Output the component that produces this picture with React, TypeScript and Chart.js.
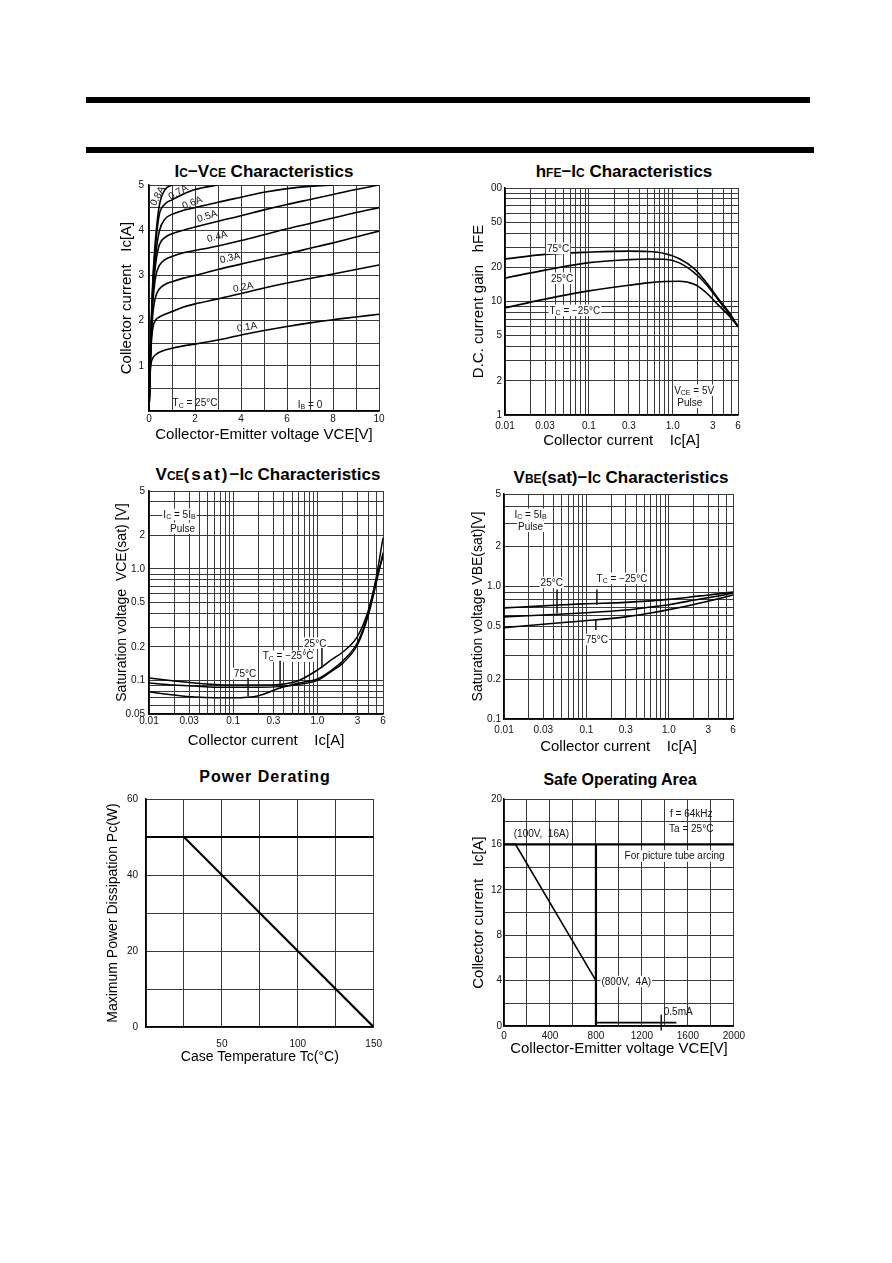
import React, { useEffect, useRef } from 'react';
import { Chart, registerables } from 'chart.js';

Chart.register(...registerables);

const FONT = '"Liberation Sans", Arial, Helvetica, sans-serif';

// ---------- Ic–VCE characteristics ----------
const icVceV = [0, 0.03, 0.06, 0.1, 0.15, 0.2, 0.3, 0.45, 0.7, 1, 1.5, 2, 3, 4, 5, 6, 7, 8, 9, 10];
const icIb01 = [0, 0.55, 0.9, 1.08, 1.16, 1.2, 1.25, 1.3, 1.35, 1.39, 1.44, 1.48, 1.57, 1.68, 1.78, 1.87, 1.95, 2.02, 2.08, 2.14];
const icIb02 = [0, 0.6, 1.1, 1.5, 1.78, 1.92, 2.02, 2.08, 2.14, 2.2, 2.3, 2.37, 2.48, 2.6, 2.72, 2.83, 2.93, 3.03, 3.13, 3.23];
const icIb03 = [0, 0.6, 1.15, 1.65, 2.05, 2.3, 2.55, 2.7, 2.8, 2.86, 2.94, 3.0, 3.13, 3.25, 3.37, 3.48, 3.6, 3.72, 3.85, 3.98];
const icIb04 = [0, 0.6, 1.2, 1.75, 2.3, 2.6, 3.0, 3.22, 3.35, 3.42, 3.5, 3.55, 3.65, 3.77, 3.9, 4.03, 4.15, 4.27, 4.39, 4.5];
const icIb05 = [0, 0.6, 1.2, 1.8, 2.45, 2.8, 3.3, 3.68, 3.84, 3.92, 4.0, 4.07, 4.2, 4.32, 4.45, 4.57, 4.68, 4.79, 4.9, 5.0];
const icIb06 = [0, 0.6, 1.25, 1.85, 2.55, 2.95, 3.5, 3.98, 4.25, 4.35, 4.44, 4.5, 4.62, 4.73, 4.84, 4.92, 4.97, 5.0, null, null];
const icIb07 = [0, 0.6, 1.25, 1.9, 2.6, 3.1, 3.75, 4.35, 4.58, 4.67, 4.8, 4.9, 5.0, null, null, null, null, null, null, null];
const icIb08 = [0, 0.6, 1.3, 1.95, 2.7, 3.2, 3.9, 4.55, 4.9, 5.0, null, null, null, null, null, null, null, null, null, null];
const icVceGridX = [0, 1, 2, 3, 4, 5, 6, 7, 8, 9, 10];
const icVceGridY = [0, 0.5, 1, 1.5, 2, 2.5, 3, 3.5, 4, 4.5, 5];
const icVceLabelsX: [number, string][] = [[0, '0'], [2, '2'], [4, '4'], [6, '6'], [8, '8'], [10, '10']];
const icVceLabelsY: [number, string][] = [[1, '1'], [2, '2'], [3, '3'], [4, '4'], [5, '5']];

// ---------- shared log grid for collector current ----------
const icLogGrid = [0.01, 0.02, 0.03, 0.04, 0.05, 0.06, 0.07, 0.08, 0.09, 0.1, 0.2, 0.3, 0.4, 0.5, 0.6, 0.7, 0.8, 0.9, 1, 2, 3, 4, 5, 6];
const icLogLabels: [number, string][] = [[0.01, '0.01'], [0.03, '0.03'], [0.1, '0.1'], [0.3, '0.3'], [1, '1.0'], [3, '3'], [6, '6']];

// ---------- hFE–Ic ----------
const hfeIc = [0.01, 0.03, 0.1, 0.3, 0.5, 0.8, 1.2, 1.8, 2.5, 3.5, 5, 6];
const hfe75 = [23.7, 26, 27.2, 27.8, 27.6, 26.5, 23.8, 19.5, 14.8, 10.6, 7.5, 6.0];
const hfe25 = [16.1, 18.9, 22, 23.4, 23.7, 23.6, 21.9, 18, 14.2, 10.3, 7.3, 6.0];
const hfeM25 = [8.8, 10.5, 12.4, 13.9, 14.6, 15.0, 15.1, 14.2, 12.0, 9.3, 7.1, 6.0];
const hfeGridY = [1, 2, 3, 4, 5, 6, 7, 8, 9, 10, 20, 30, 40, 50, 60, 70, 80, 90, 100];
const hfeLabelsY: [number, string][] = [[1, '1'], [2, '2'], [5, '5'], [10, '10'], [20, '20'], [50, '50'], [100, '00']];

// ---------- VCE(sat)–Ic ----------
const vceSatIc = [0.01, 0.02, 0.035, 0.06, 0.1, 0.2, 0.35, 0.6, 1, 1.5, 2, 3, 4, 5, 6];
const vceSat25 = [0.105, 0.099, 0.095, 0.092, 0.091, 0.091, 0.092, 0.1, 0.124, 0.155, 0.18, 0.25, 0.42, 0.8, 1.3];
const vceSatM25 = [0.095, 0.091, 0.089, 0.087, 0.087, 0.087, 0.088, 0.092, 0.1, 0.122, 0.143, 0.21, 0.38, 0.75, 1.4];
const vceSat75 = [0.079, 0.074, 0.071, 0.07, 0.07, 0.073, 0.085, 0.095, 0.103, 0.125, 0.15, 0.22, 0.4, 0.85, 1.9];
const vceSatGridY = [0.05, 0.06, 0.07, 0.08, 0.09, 0.1, 0.2, 0.3, 0.4, 0.5, 0.6, 0.7, 0.8, 0.9, 1, 2, 3, 4, 5];
const vceSatLabelsY: [number, string][] = [[0.05, '0.05'], [0.1, '0.1'], [0.2, '0.2'], [0.5, '0.5'], [1, '1.0'], [2, '2'], [5, '5']];

// ---------- VBE(sat)–Ic ----------
const vbeSatIc = [0.01, 0.03, 0.09, 0.3, 0.6, 1, 2.4, 4, 6];
const vbeSat25 = [0.69, 0.715, 0.74, 0.76, 0.78, 0.8, 0.85, 0.88, 0.91];
const vbeSatM25 = [0.59, 0.61, 0.632, 0.665, 0.7, 0.73, 0.806, 0.85, 0.895];
const vbeSat75 = [0.49, 0.52, 0.55, 0.59, 0.632, 0.67, 0.752, 0.81, 0.864];
const vbeSatGridY = [0.1, 0.2, 0.3, 0.4, 0.5, 0.6, 0.7, 0.8, 0.9, 1, 2, 3, 4, 5];
const vbeSatLabelsY: [number, string][] = [[0.1, '0.1'], [0.2, '0.2'], [0.5, '0.5'], [1, '1.0'], [2, '2'], [5, '5']];

// ---------- Power derating ----------
const pdTemp = [0, 25, 150];
const pdPower = [50, 50, 0];
const pdLimitTemp = [0, 150];
const pdLimitPower = [50, 50];
const pdGridX = [0, 25, 50, 75, 100, 125, 150];
const pdGridY = [0, 10, 20, 30, 40, 50, 60];
const pdLabelsX: [number, string][] = [[50, '50'], [100, '100'], [150, '150']];
const pdLabelsY: [number, string][] = [[0, '0'], [20, '20'], [40, '40'], [60, '60']];

// ---------- Safe operating area ----------
const soaVce = [0, 100, 800, 800, 1500];
const soaIc = [16, 16, 4, 0.3, 0.3];
const arcVce = [0, 2000];
const arcIc = [16, 16];
const arcEdgeVce = [800, 800];
const arcEdgeIc = [16, 0];
const soaGridX = [0, 200, 400, 600, 800, 1000, 1200, 1400, 1600, 1800, 2000];
const soaGridY = [0, 2, 4, 6, 8, 10, 12, 14, 16, 18, 20];
const soaLabelsX: [number, string][] = [[0, '0'], [400, '400'], [800, '800'], [1200, '1200'], [1600, '1600'], [2000, '2000']];
const soaLabelsY: [number, string][] = [[0, '0'], [4, '4'], [8, '8'], [12, '12'], [16, '16'], [20, '20']];

// ---------- annotations (data coordinates) ----------
type Note = { x: number; y: number; text?: string; size?: number; align?: CanvasTextAlign; rot?: number; x2?: number; y2?: number; lw?: number; bg?: boolean };

const icVceNotes: Note[] = [
  { x: 0.35, y: 4.76, text: '0.8A', rot: -62 },
  { x: 1.26, y: 4.85, text: '0.7A', rot: -30 },
  { x: 1.87, y: 4.62, text: '0.6A', rot: -22 },
  { x: 2.52, y: 4.32, text: '0.5A', rot: -17 },
  { x: 2.96, y: 3.87, text: '0.4A', rot: -15 },
  { x: 3.52, y: 3.4, text: '0.3A', rot: -13 },
  { x: 4.09, y: 2.75, text: '0.2A', rot: -11 },
  { x: 4.26, y: 1.87, text: '0.1A', rot: -9 },
  { x: 2.0, y: 0.18, text: 'T_{C} = 25°C' },
  { x: 7.0, y: 0.15, text: 'I_{B} = 0' },
];
const hfeNotes: Note[] = [
  { x: 0.043, y: 29.6, text: '75°C', bg: true },
  { x: 0.048, y: 16.1, text: '25°C', bg: true },
  { x: 0.068, y: 8.4, text: 'T_{C} = −25°C', bg: true },
  { x: 1.8, y: 1.66, text: 'V_{CE} = 5V', bg: true },
  { x: 1.6, y: 1.3, text: 'Pulse', bg: true },
];
const vceSatNotes: Note[] = [
  { x: 0.023, y: 3.1, text: 'I_{C} = 5I_{B}', bg: true },
  { x: 0.025, y: 2.33, text: 'Pulse', bg: true },
  { x: 0.138, y: 0.116, text: '75°C', bg: true },
  { x: 0.447, y: 0.166, text: 'T_{C} = −25°C', bg: true },
  { x: 0.94, y: 0.217, text: '25°C', bg: true },
  { x: 0.15, y: 0.105, x2: 0.15, y2: 0.072 },
  { x: 0.36, y: 0.15, x2: 0.36, y2: 0.088 },
  { x: 1.13, y: 0.195, x2: 1.13, y2: 0.13 },
];
const vbeSatNotes: Note[] = [
  { x: 0.021, y: 3.53, text: 'I_{C} = 5I_{B}', bg: true },
  { x: 0.021, y: 2.87, text: 'Pulse', bg: true },
  { x: 0.038, y: 1.08, text: '25°C', bg: true },
  { x: 0.27, y: 1.16, text: 'T_{C} = −25°C', bg: true },
  { x: 0.134, y: 0.4, text: '75°C', bg: true },
  { x: 0.044, y: 0.95, x2: 0.044, y2: 0.63 },
  { x: 0.134, y: 0.95, x2: 0.134, y2: 0.73 },
  { x: 0.13, y: 0.56, x2: 0.13, y2: 0.47 },
];
const soaNotes: Note[] = [
  { x: 325, y: 17.0, text: '(100V,  16A)' },
  { x: 1629, y: 18.7, text: 'f = 64kHz' },
  { x: 1629, y: 17.4, text: 'Ta = 25°C' },
  { x: 1484, y: 15.0, text: 'For picture tube arcing', bg: true },
  { x: 1064, y: 3.95, text: '(800V,  4A)', bg: true },
  { x: 1390, y: 1.3, text: '0.5mA', align: 'left' },
  { x: 1368, y: 1.0, x2: 1368, y2: -0.4 },
];

// ---------- helpers ----------
function drawRich(ctx: CanvasRenderingContext2D, text: string, x: number, y: number, size: number, align: CanvasTextAlign, bg: boolean) {
  const parts = text
    .split(/(_\{[^}]*\})/)
    .filter((p) => p.length > 0)
    .map((p) => (p.startsWith('_{') ? { t: p.slice(2, -1), sub: true } : { t: p, sub: false }));
  const fontFor = (sub: boolean) => `${sub ? Math.round(size * 0.72) : size}px ${FONT}`;
  const widths = parts.map((p) => {
    ctx.font = fontFor(p.sub);
    return ctx.measureText(p.t).width;
  });
  const total = widths.reduce((a, b) => a + b, 0);
  let cx = align === 'center' ? x - total / 2 : align === 'right' ? x - total : x;
  if (bg) {
    ctx.fillStyle = '#fff';
    ctx.fillRect(cx - 1, y - size * 0.55, total + 2, size * 1.15);
  }
  ctx.fillStyle = '#111';
  ctx.textAlign = 'left';
  ctx.textBaseline = 'alphabetic';
  parts.forEach((p, i) => {
    ctx.font = fontFor(p.sub);
    ctx.fillText(p.t, cx, y + size * 0.36 + (p.sub ? size * 0.12 : 0));
    cx += widths[i];
  });
}

function notesPlugin(notes: Note[]) {
  return {
    id: 'notes',
    afterDatasetsDraw(chart: any) {
      const ctx: CanvasRenderingContext2D = chart.ctx;
      const xs = chart.scales.x;
      const ys = chart.scales.y;
      ctx.save();
      for (const n of notes) {
        const px = xs.getPixelForValue(n.x);
        const py = ys.getPixelForValue(n.y);
        if (n.x2 !== undefined && n.y2 !== undefined) {
          ctx.strokeStyle = '#111';
          ctx.lineWidth = n.lw ?? 1.5;
          ctx.beginPath();
          ctx.moveTo(px, py);
          ctx.lineTo(xs.getPixelForValue(n.x2), ys.getPixelForValue(n.y2));
          ctx.stroke();
        }
        if (n.text) {
          ctx.save();
          ctx.translate(px, py);
          ctx.rotate(((n.rot ?? 0) * Math.PI) / 180);
          drawRich(ctx, n.text, 0, 0, n.size ?? 10, n.align ?? 'center', !!n.bg);
          ctx.restore();
        }
      }
      ctx.restore();
    },
  };
}

function findLabel(labels: [number, string][], v: number) {
  for (const [lv, s] of labels) if (Math.abs(lv - v) <= Math.abs(lv) * 1e-6 + 1e-9) return s;
  return '';
}

type AxisSpec = {
  type: 'linear' | 'logarithmic';
  min: number;
  max: number;
  grid: number[];
  labels: [number, string][];
  title: string;
  titleSize: number;
  pad: number;
};

function axis(spec: AxisSpec, fixed: number, horizontal: boolean) {
  return {
    type: spec.type,
    position: horizontal ? 'bottom' : 'left',
    min: spec.min,
    max: spec.max,
    bounds: 'data',
    afterBuildTicks: (s: any) => {
      s.ticks = spec.grid.map((v) => ({ value: v }));
    },
    afterFit: (s: any) => {
      if (horizontal) s.height = fixed;
      else s.width = fixed;
    },
    ticks: {
      autoSkip: false,
      maxRotation: 0,
      minRotation: 0,
      padding: spec.pad,
      font: { family: FONT, size: 10 },
      color: '#111',
      callback: (v: any) => findLabel(spec.labels, Number(v)),
    },
    grid: { color: '#3a3a3a', lineWidth: 1, drawTicks: false },
    border: { display: true, color: '#000', width: 1.5 },
    title: {
      display: true,
      text: spec.title,
      color: '#000',
      font: { family: FONT, size: spec.titleSize },
      padding: 0,
    },
  };
}

function series(xs: number[], ys: (number | null)[], width = 1.6, smooth = true) {
  const data: { x: number; y: number }[] = [];
  xs.forEach((x, i) => {
    const y = ys[i];
    if (y !== null && y !== undefined) data.push({ x, y });
  });
  return {
    data,
    showLine: true,
    borderColor: '#000',
    backgroundColor: '#000',
    borderWidth: width,
    pointRadius: 0,
    cubicInterpolationMode: smooth ? 'monotone' : 'default',
    tension: 0,
    fill: false,
  };
}

type Box = { left: number; top: number; width: number; height: number; padTop: number; padRight: number; yW: number; xH: number };

function makeConfig(datasets: any[], xSpec: AxisSpec, ySpec: AxisSpec, box: Box, notes: Note[]) {
  return {
    type: 'scatter',
    data: { datasets },
    options: {
      responsive: false,
      maintainAspectRatio: false,
      animation: false,
      events: [],
      devicePixelRatio: 1,
      layout: { padding: { top: box.padTop, right: box.padRight, left: 0, bottom: 0 } },
      plugins: { legend: { display: false }, tooltip: { enabled: false }, title: { display: false } },
      scales: { x: axis(xSpec, box.xH, true), y: axis(ySpec, box.yW, false) },
    },
    plugins: [notesPlugin(notes)],
  };
}

function ChartBox({ box, build }: { box: Box; build: () => any }) {
  const ref = useRef<HTMLCanvasElement>(null);
  useEffect(() => {
    const chart = new Chart(ref.current as HTMLCanvasElement, build());
    return () => chart.destroy();
  }, []);
  return (
    <canvas
      ref={ref}
      width={box.width}
      height={box.height}
      style={{ position: 'absolute', left: box.left, top: box.top, width: box.width, height: box.height }}
    />
  );
}

function Title({ cx, cy, children, spacing, size }: { cx: number; cy: number; children: any; spacing?: number; size?: number }) {
  return (
    <div
      style={{
        position: 'absolute',
        left: cx - 170,
        top: cy - 10,
        width: 340,
        height: 20,
        lineHeight: '20px',
        textAlign: 'center',
        font: `bold ${size ?? 17}px ${FONT}`,
        letterSpacing: spacing ?? 0,
        color: '#000',
        whiteSpace: 'nowrap',
      }}
    >
      {children}
    </div>
  );
}

const Sm = ({ children }: { children: any }) => <span style={{ fontSize: 12 }}>{children}</span>;

// ---------- chart boxes ----------
const box1: Box = { left: 118, top: 174, width: 273, height: 270, padTop: 10, padRight: 12, yW: 31, xH: 33 };
const box2: Box = { left: 470, top: 178, width: 280, height: 272, padTop: 10, padRight: 12, yW: 35, xH: 35 };
const box3: Box = { left: 114, top: 481, width: 281, height: 269, padTop: 10, padRight: 12, yW: 35, xH: 36 };
const box4: Box = { left: 470, top: 484, width: 275, height: 272, padTop: 10, padRight: 12, yW: 34, xH: 37 };
const box5: Box = { left: 105, top: 785, width: 288, height: 281, padTop: 10, padRight: 15, yW: 41, xH: 39 };
const box6: Box = { left: 470, top: 789, width: 279, height: 269, padTop: 10, padRight: 15, yW: 34, xH: 32 };

const build1 = () =>
  makeConfig(
    [icIb01, icIb02, icIb03, icIb04, icIb05, icIb06, icIb07, icIb08].map((ys) => series(icVceV, ys, 1.6)),
    { type: 'linear', min: 0, max: 10, grid: icVceGridX, labels: icVceLabelsX, title: 'Collector-Emitter voltage VCE[V]', titleSize: 15, pad: 2 },
    { type: 'linear', min: 0, max: 5, grid: icVceGridY, labels: icVceLabelsY, title: 'Collector current   Ic[A]', titleSize: 15, pad: 5 },
    box1,
    icVceNotes
  );

const build2 = () =>
  makeConfig(
    [hfe75, hfe25, hfeM25].map((ys) => series(hfeIc, ys, 1.6)),
    { type: 'logarithmic', min: 0.01, max: 6, grid: icLogGrid, labels: icLogLabels, title: 'Collector current    Ic[A]', titleSize: 15, pad: 5 },
    { type: 'logarithmic', min: 1, max: 100, grid: hfeGridY, labels: hfeLabelsY, title: 'D.C. current gain   hFE', titleSize: 15, pad: 3 },
    box2,
    hfeNotes
  );

const build3 = () =>
  makeConfig(
    [vceSat25, vceSatM25, vceSat75].map((ys) => series(vceSatIc, ys, 1.5)),
    { type: 'logarithmic', min: 0.01, max: 6, grid: icLogGrid, labels: icLogLabels, title: 'Collector current    Ic[A]', titleSize: 15, pad: 1 },
    { type: 'logarithmic', min: 0.05, max: 5, grid: vceSatGridY, labels: vceSatLabelsY, title: 'Saturation voltage  VCE(sat) [V]', titleSize: 14, pad: 4 },
    box3,
    vceSatNotes
  );

const build4 = () =>
  makeConfig(
    [vbeSat25, vbeSatM25, vbeSat75].map((ys) => series(vbeSatIc, ys, 1.6)),
    { type: 'logarithmic', min: 0.01, max: 6, grid: icLogGrid, labels: icLogLabels, title: 'Collector current    Ic[A]', titleSize: 15, pad: 5 },
    { type: 'logarithmic', min: 0.1, max: 5, grid: vbeSatGridY, labels: vbeSatLabelsY, title: 'Saturation voltage VBE(sat)[V]', titleSize: 14, pad: 3 },
    box4,
    vbeSatNotes
  );

const build5 = () =>
  makeConfig(
    [series(pdLimitTemp, pdLimitPower, 2.2, false), series(pdTemp, pdPower, 2.2, false)],
    { type: 'linear', min: 0, max: 150, grid: pdGridX, labels: pdLabelsX, title: 'Case Temperature Tc(°C)', titleSize: 14, pad: 11 },
    { type: 'linear', min: 0, max: 60, grid: pdGridY, labels: pdLabelsY, title: 'Maximum Power Dissipation Pc(W)', titleSize: 14, pad: 8 },
    box5,
    []
  );

const build6 = () =>
  makeConfig(
    [series(arcVce, arcIc, 2.2, false), series(arcEdgeVce, arcEdgeIc, 2.2, false), series(soaVce, soaIc, 1.6, false)],
    { type: 'linear', min: 0, max: 2000, grid: soaGridX, labels: soaLabelsX, title: 'Collector-Emitter voltage VCE[V]', titleSize: 15, pad: 4 },
    { type: 'linear', min: 0, max: 20, grid: soaGridY, labels: soaLabelsY, title: 'Collector current   Ic[A]', titleSize: 15, pad: 2 },
    box6,
    soaNotes
  );

export default function App() {
  return (
    <div style={{ position: 'absolute', left: 0, top: 0, width: 892, height: 1263, background: '#fff', overflow: 'hidden' }}>
      <div style={{ position: 'absolute', left: 86, top: 97, width: 724, height: 6, background: '#000' }} />
      <div style={{ position: 'absolute', left: 86, top: 147, width: 728, height: 6, background: '#000' }} />

      <Title cx={264} cy={172}>
        I<Sm>C</Sm>−V<Sm>CE</Sm> Characteristics
      </Title>
      <Title cx={624} cy={172}>
        h<Sm>FE</Sm>−I<Sm>C</Sm> Characteristics
      </Title>
      <Title cx={268} cy={475}>
        V<Sm>CE</Sm>
        <span style={{ letterSpacing: 2 }}>(sat)</span>−I<Sm>C</Sm> Characteristics
      </Title>
      <Title cx={621} cy={478}>
        V<Sm>BE</Sm>(sat)−I<Sm>C</Sm> Characteristics
      </Title>
      <Title cx={265} cy={778} spacing={1} size={16}>
        Power Derating
      </Title>
      <Title cx={620} cy={781} size={16}>
        Safe Operating Area
      </Title>

      <ChartBox box={box1} build={build1} />
      <ChartBox box={box2} build={build2} />
      <ChartBox box={box3} build={build3} />
      <ChartBox box={box4} build={build4} />
      <ChartBox box={box5} build={build5} />
      <ChartBox box={box6} build={build6} />
    </div>
  );
}
